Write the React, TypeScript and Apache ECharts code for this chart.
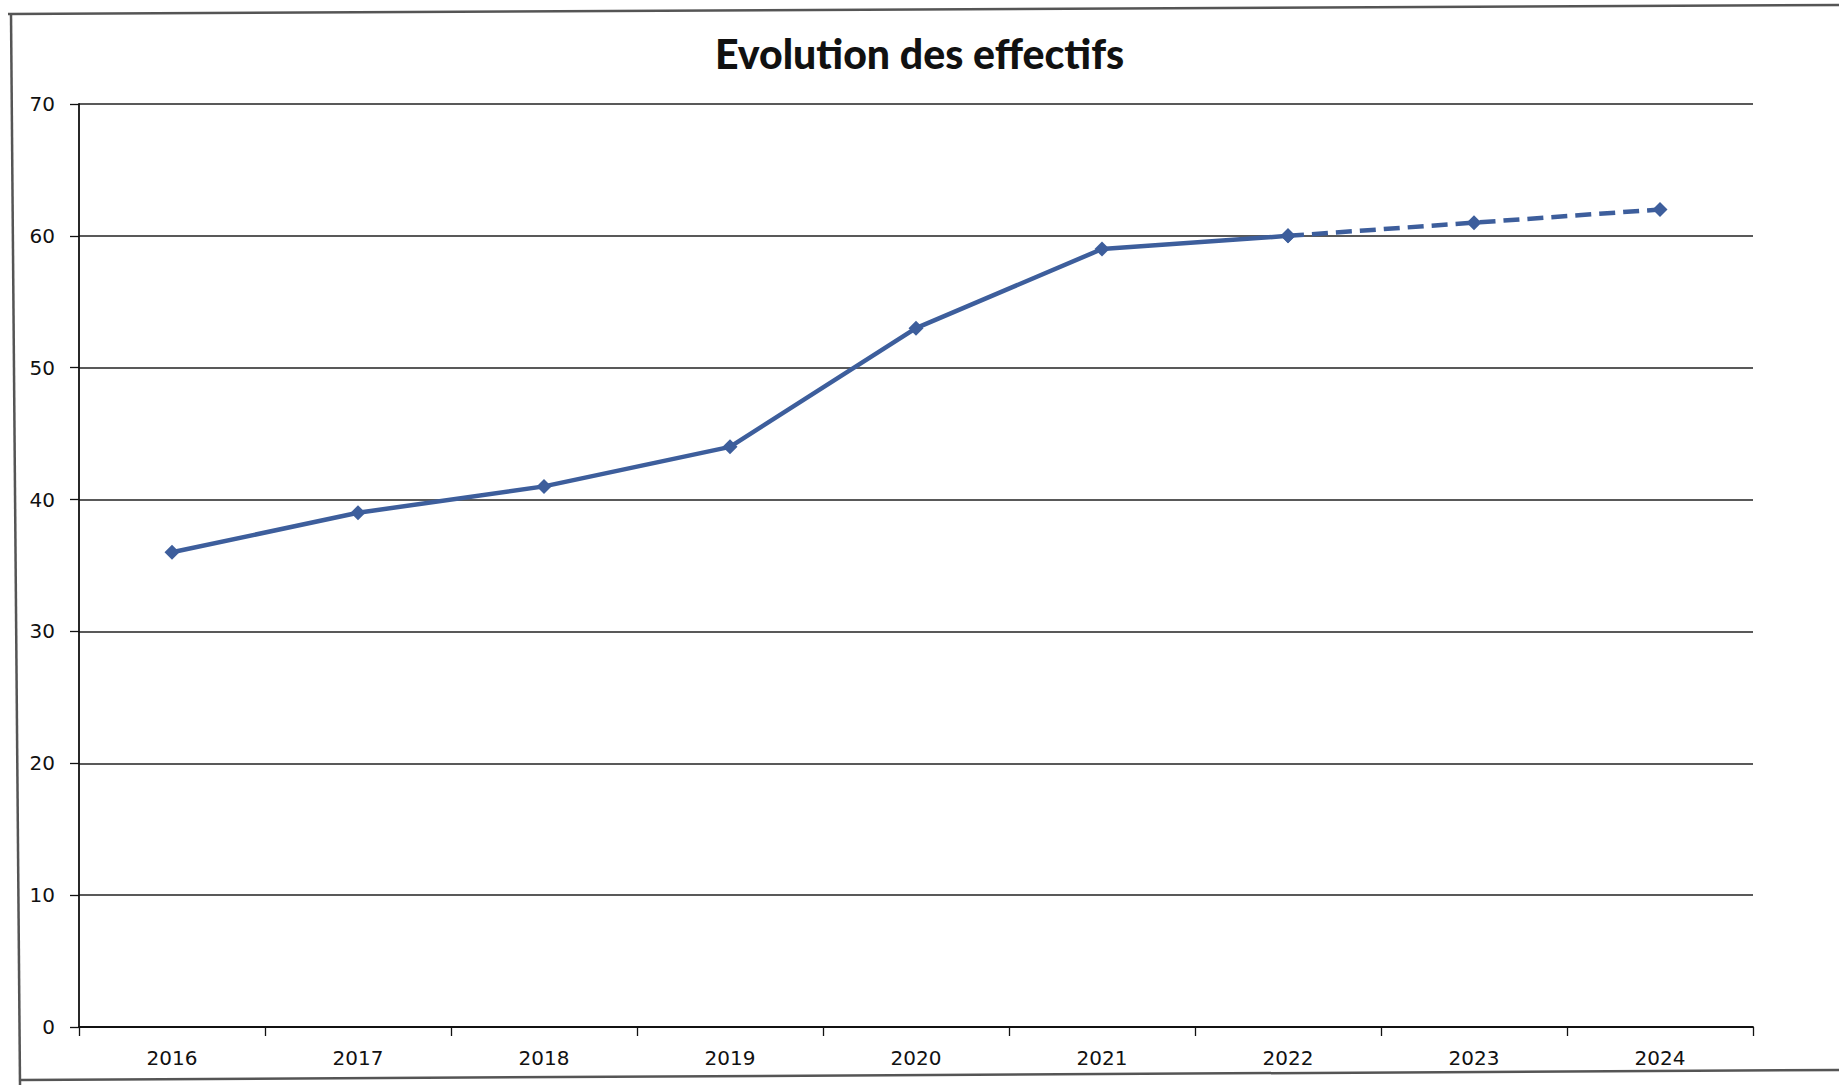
import React, { useEffect, useRef } from "react";
import * as echarts from "echarts";

const years = ["2016", "2017", "2018", "2019", "2020", "2021", "2022", "2023", "2024"];
const actual = [36, 39, 41, 44, 53, 59, 60, null, null];
const forecast = [null, null, null, null, null, null, 60, 61, 62];
const yTicks = { min: 0, max: 70, interval: 10 };
const title = "Evolution des effectifs";

export default function App() {
  const ref = useRef<HTMLDivElement>(null);
  useEffect(() => {
    if (!ref.current) return;
    const chart = echarts.init(ref.current, null, { renderer: "svg" });
    const lineColor = "#3d5e9c";
    chart.setOption({
      animation: false,
      backgroundColor: "#ffffff",
      title: {
        text: title,
        left: "center",
        top: 28,
        textStyle: { fontFamily: "Lato", fontWeight: 900, fontSize: 41, color: "#111" },
      },
      grid: { left: 79, right: 86, top: 104, bottom: 58, containLabel: false },
      xAxis: {
        type: "category",
        data: years,
        boundaryGap: true,
        axisLine: { lineStyle: { color: "#111", width: 1.8 } },
        axisTick: { show: true, length: 9, inside: false, lineStyle: { color: "#111", width: 1.3 } },
        axisLabel: { fontFamily: "DejaVu Sans", fontSize: 20, color: "#111", margin: 21 },
        splitLine: { show: false },
      },
      yAxis: {
        type: "value",
        min: yTicks.min,
        max: yTicks.max,
        interval: yTicks.interval,
        axisLine: { show: true, lineStyle: { color: "#111", width: 1.8 } },
        axisTick: { show: true, length: 9, lineStyle: { color: "#111", width: 1.3 } },
        axisLabel: { fontFamily: "DejaVu Sans", fontSize: 20, color: "#111", margin: 24 },
        splitLine: { show: true, lineStyle: { color: "#222", width: 1.5 } },
      },
      series: [
        {
          type: "line",
          data: actual,
          symbol: "diamond",
          symbolSize: 15,
          lineStyle: { color: lineColor, width: 4.5 },
          itemStyle: { color: lineColor },
          connectNulls: false,
          z: 3,
        },
        {
          type: "line",
          data: forecast,
          symbol: "diamond",
          symbolSize: 15,
          lineStyle: { color: lineColor, width: 4.5, type: [16, 8] },
          itemStyle: { color: lineColor },
          connectNulls: false,
          z: 3,
        },
      ],
      graphic: [
        { type: "line", shape: { x1: 8, y1: 14, x2: 1839, y2: 5 }, style: { stroke: "#555", lineWidth: 2.5 } },
        { type: "line", shape: { x1: 11, y1: 14, x2: 20, y2: 1085 }, style: { stroke: "#555", lineWidth: 2.5 } },
        { type: "line", shape: { x1: 20, y1: 1080, x2: 1839, y2: 1070 }, style: { stroke: "#555", lineWidth: 2.5 } },
      ],
    });
    return () => chart.dispose();
  }, []);
  return (
    <div
      ref={ref}
      style={{ position: "fixed", left: 0, top: 0, width: 1839, height: 1085 }}
    />
  );
}
